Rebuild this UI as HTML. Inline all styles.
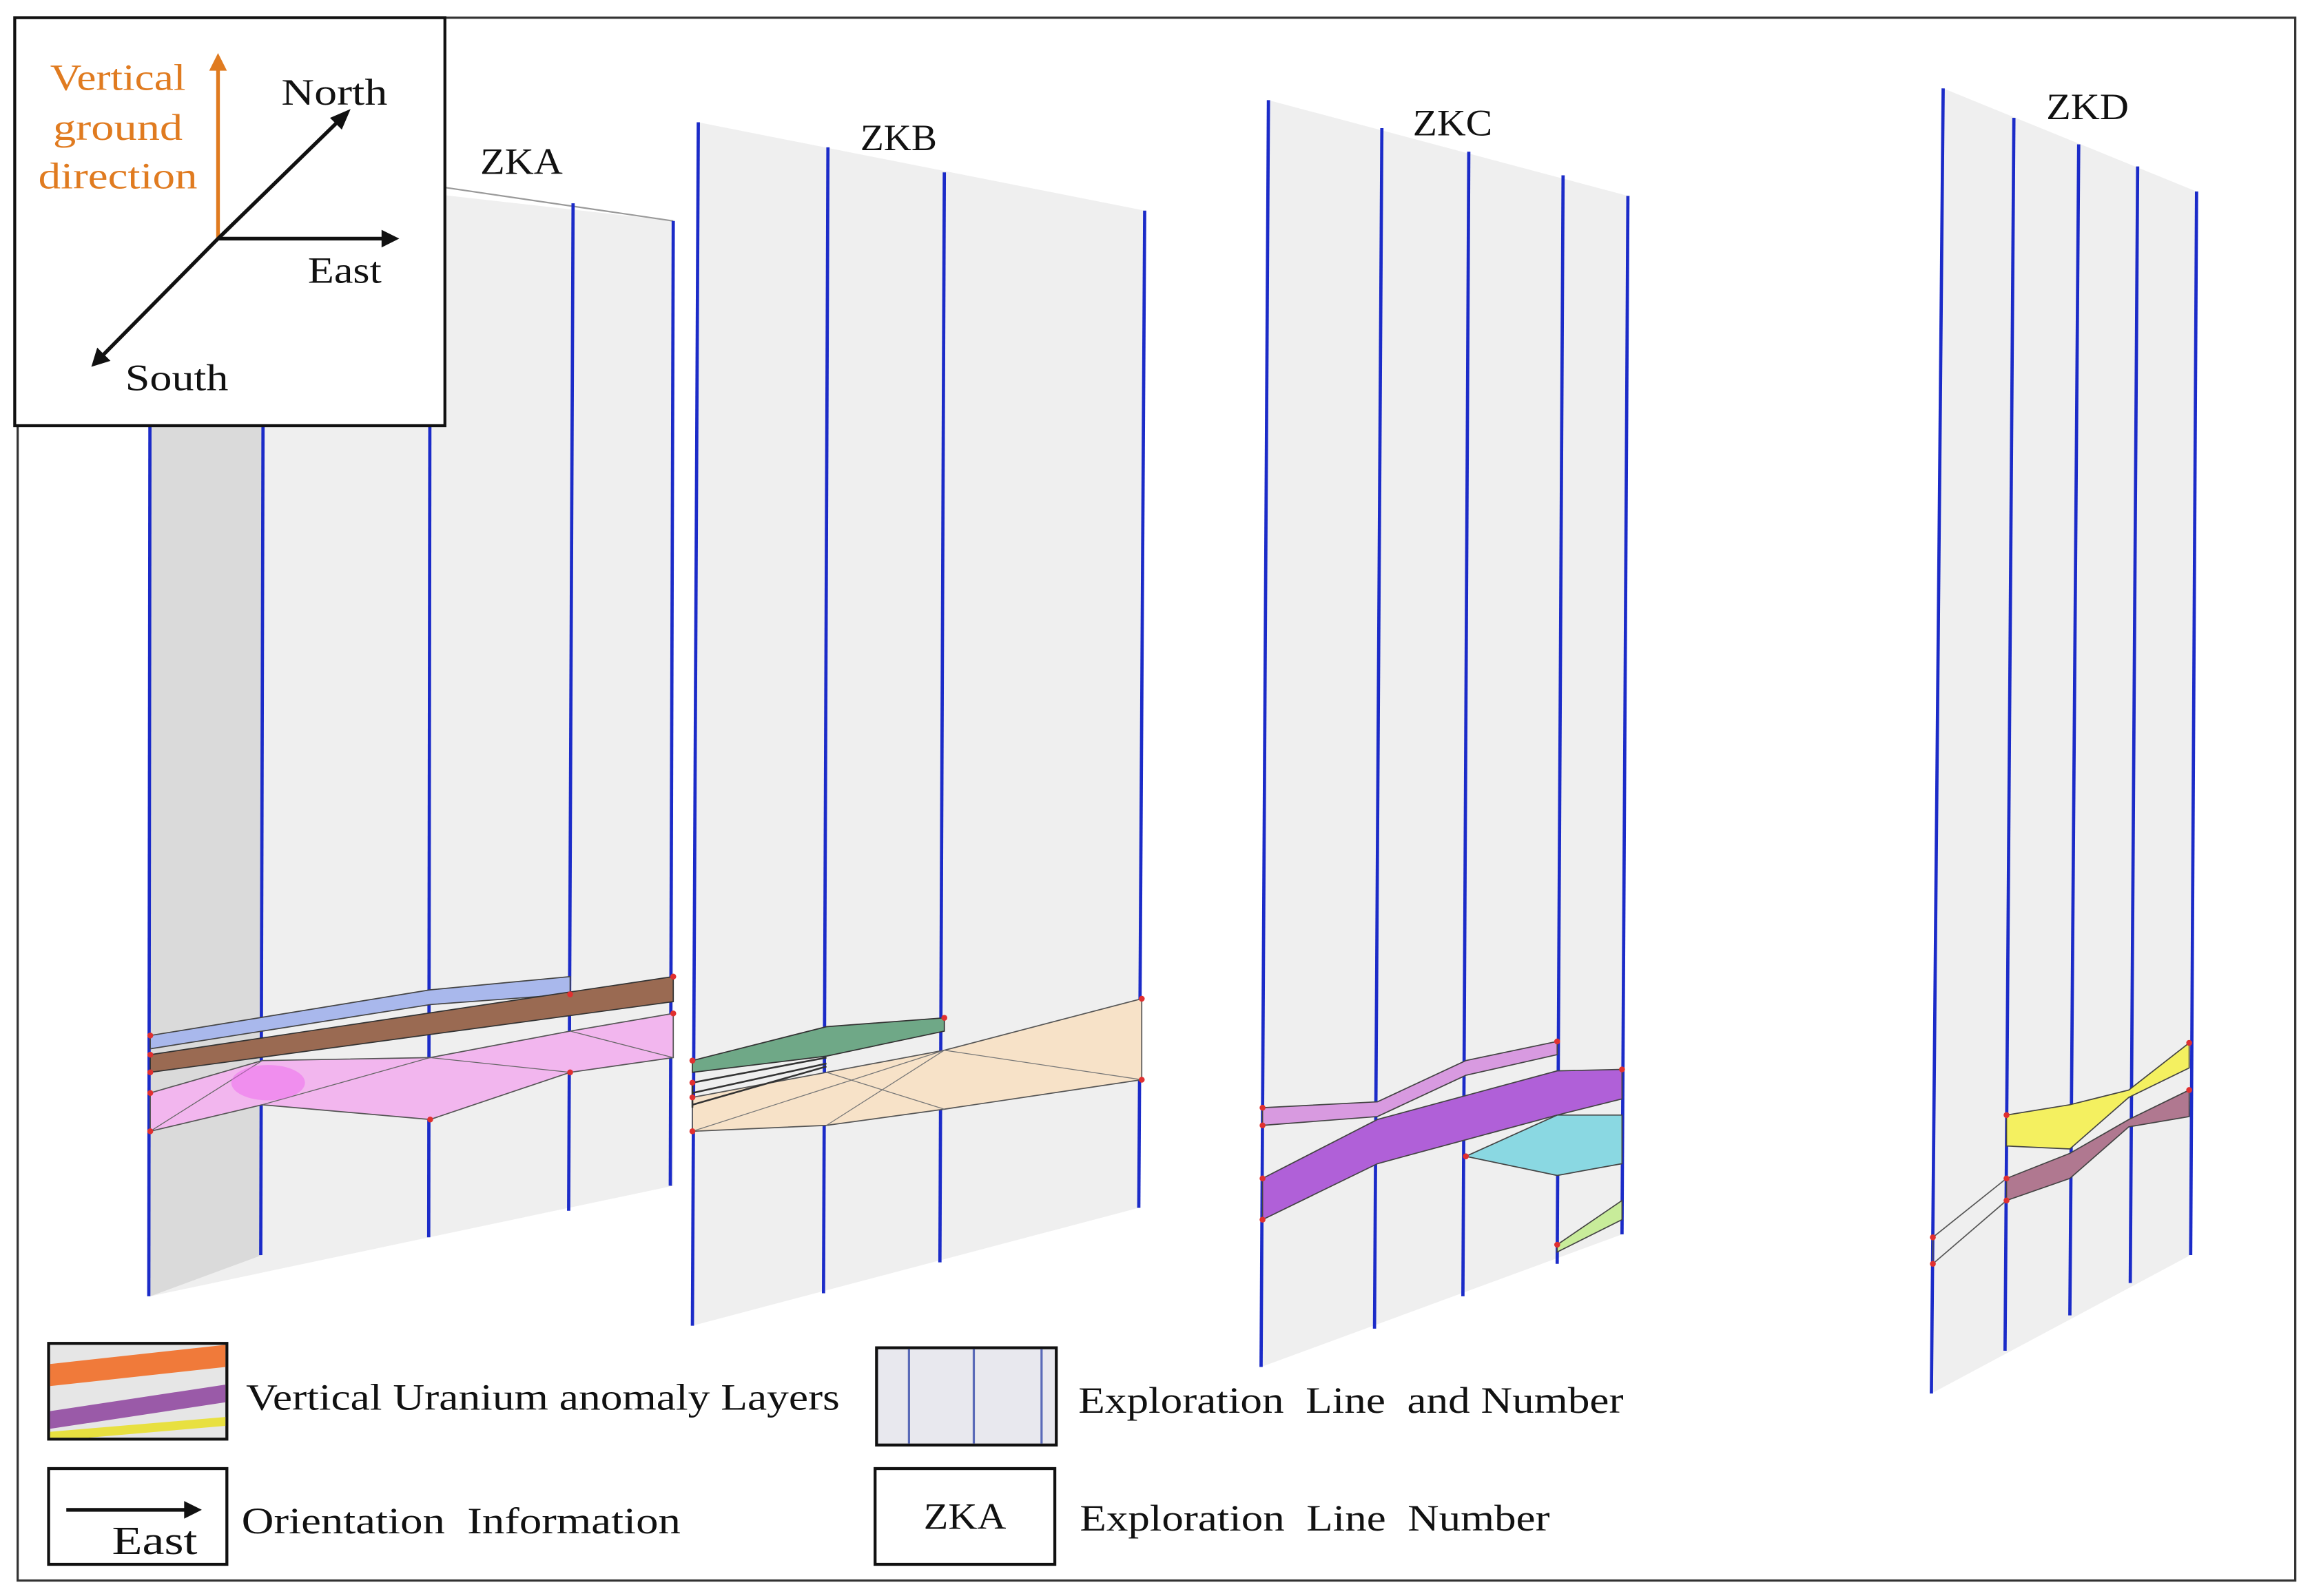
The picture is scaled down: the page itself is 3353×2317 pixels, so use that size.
<!DOCTYPE html>
<html><head><meta charset="utf-8">
<style>
html,body{margin:0;padding:0;background:#fff;}
svg{display:block;}
text{font-family:"Liberation Serif",serif;}
</style></head>
<body>
<svg width="3353" height="2317" viewBox="0 0 1568 1083.5" preserveAspectRatio="none" xmlns="http://www.w3.org/2000/svg">
<rect x="0" y="0" width="1568" height="1083.5" fill="#fff"/>
<rect x="12" y="12" width="1546" height="1061" fill="none" stroke="#333" stroke-width="1.5"/>

<!-- ZKA panel -->
<g>
<polygon points="102,110 457,150 457,805 102,880" fill="#efefef"/>
<polygon points="102,110 178,118 178,852 102,880" fill="#dadada"/>
<line x1="300" y1="127" x2="457" y2="150" stroke="#999" stroke-width="1"/>
<g stroke="#1b2bc8" stroke-width="2.2">
<line x1="102" y1="110" x2="101" y2="880"/>
<line x1="179" y1="118" x2="177" y2="852"/>
<line x1="292" y1="126" x2="291" y2="840"/>
<line x1="389" y1="138" x2="386" y2="822"/>
<line x1="457" y1="150" x2="455" y2="805"/>
</g>
<polygon points="102,703 292,672 387,663 387,675 292,682 102,712" fill="#a9b8ec" stroke="#444" stroke-width="0.8"/>
<polygon points="102,716 457,663 457,680 102,728" fill="#9a6a52" stroke="#333" stroke-width="0.8"/>
<polygon points="102,742 178,720 292,718 387,700 457,688 457,718 387,728 292,760 178,750 102,768" fill="#f2b6ee" stroke="#555" stroke-width="0.8"/>
<path d="M178,720 L102,768 M178,750 L292,718 M292,718 L387,728 M387,700 L457,718" stroke="#666" stroke-width="0.6" fill="none"/>
<ellipse cx="182" cy="735" rx="25" ry="12" fill="#ee66ee" opacity="0.5"/>
<g fill="#e03030">
<circle cx="102" cy="703" r="2"/><circle cx="102" cy="716" r="2"/><circle cx="102" cy="728" r="2"/><circle cx="102" cy="742" r="2"/><circle cx="102" cy="768" r="2"/>
<circle cx="387" cy="675" r="2"/><circle cx="457" cy="663" r="2"/><circle cx="457" cy="688" r="2"/><circle cx="387" cy="728" r="2"/><circle cx="292" cy="760" r="2"/>
</g>
</g>

<!-- ZKB panel -->
<g>
<polygon points="474,83 777,143 773,820 470,900" fill="#efefef"/>
<g stroke="#1b2bc8" stroke-width="2.2">
<line x1="474" y1="83" x2="470" y2="900"/>
<line x1="562" y1="100" x2="559" y2="878"/>
<line x1="641" y1="117" x2="638" y2="857"/>
<line x1="777" y1="143" x2="773" y2="820"/>
</g>
<polygon points="470,745 561,728 641,713 775,678 775,733 641,753 561,764 470,768" fill="#f7e2c8" stroke="#555" stroke-width="0.8"/>
<path d="M470,768 L641,713 L775,733 M561,764 L641,713 M561,728 L641,753" stroke="#777" stroke-width="0.6" fill="none"/>
<polygon points="470,720 561,697 641,691 641,700 561,717 470,728" fill="#6fa887" stroke="#333" stroke-width="0.8"/>
<path d="M470,735 L561,718 M470,742 L561,722 M470,750 L561,724 M470,735 L470,752" stroke="#333" stroke-width="1.2" fill="none"/>
<g fill="#e03030">
<circle cx="470" cy="720" r="2"/><circle cx="470" cy="735" r="2"/><circle cx="470" cy="745" r="2"/><circle cx="470" cy="768" r="2"/><circle cx="775" cy="678" r="2"/><circle cx="775" cy="733" r="2"/><circle cx="641" cy="691" r="2"/>
</g>
</g>

<!-- ZKC panel -->
<g>
<polygon points="861,68 1105,133 1101,838 856,928" fill="#efefef"/>
<g stroke="#1b2bc8" stroke-width="2.2">
<line x1="861" y1="68" x2="856" y2="928"/>
<line x1="938" y1="87" x2="933" y2="902"/>
<line x1="997" y1="103" x2="993" y2="880"/>
<line x1="1061" y1="119" x2="1057" y2="858"/>
<line x1="1105" y1="133" x2="1101" y2="838"/>
</g>
<polygon points="857,752 935,748 995,720 1057,707 1057,716 995,730 935,758 857,764" fill="#d89ae0" stroke="#444" stroke-width="0.8"/>
<polygon points="857,800 935,760 1057,727 1101,726 1101,746 1057,757 935,790 857,828" fill="#b060d8" stroke="#444" stroke-width="0.8"/>
<polygon points="995,785 1057,757 1101,757 1101,790 1057,798" fill="#8ad8e2" stroke="#444" stroke-width="0.8"/>
<polygon points="1057,845 1101,815 1101,828 1057,850" fill="#c8ec9a" stroke="#444" stroke-width="0.8"/>
<g fill="#e03030">
<circle cx="857" cy="752" r="2"/><circle cx="857" cy="764" r="2"/><circle cx="857" cy="800" r="2"/><circle cx="857" cy="828" r="2"/><circle cx="1057" cy="707" r="2"/><circle cx="1101" cy="726" r="2"/><circle cx="995" cy="785" r="2"/><circle cx="1057" cy="845" r="2"/>
</g>
</g>

<!-- ZKD panel -->
<g>
<polygon points="1319,60 1491,130 1487,852 1311,946" fill="#efefef"/>
<g stroke="#1b2bc8" stroke-width="2.2">
<line x1="1319" y1="60" x2="1311" y2="946"/>
<line x1="1367" y1="80" x2="1361" y2="917"/>
<line x1="1411" y1="98" x2="1405" y2="893"/>
<line x1="1451" y1="113" x2="1446" y2="871"/>
<line x1="1491" y1="130" x2="1487" y2="852"/>
</g>
<polygon points="1362,757 1405,750 1445,740 1486,708 1486,725 1445,745 1405,780 1362,778" fill="#f4f060" stroke="#444" stroke-width="0.8"/>
<polygon points="1362,800 1405,783 1445,760 1486,740 1486,758 1445,765 1405,800 1362,815" fill="#b07890" stroke="#444" stroke-width="0.8"/>
<path d="M1312,840 L1362,800 M1312,858 L1362,815 M1312,840 L1312,858" stroke="#555" stroke-width="0.8" fill="none"/>
<g fill="#e03030">
<circle cx="1362" cy="757" r="2"/><circle cx="1362" cy="800" r="2"/><circle cx="1362" cy="815" r="2"/><circle cx="1312" cy="840" r="2"/><circle cx="1312" cy="858" r="2"/><circle cx="1486" cy="708" r="2"/><circle cx="1486" cy="740" r="2"/>
</g>
</g>

<!-- panel labels -->
<g font-size="25" fill="#111">
<text x="354" y="118" text-anchor="middle" textLength="56" lengthAdjust="spacingAndGlyphs">ZKA</text>
<text x="610" y="102" text-anchor="middle" textLength="52" lengthAdjust="spacingAndGlyphs">ZKB</text>
<text x="986" y="92" text-anchor="middle" textLength="54" lengthAdjust="spacingAndGlyphs">ZKC</text>
<text x="1417" y="81" text-anchor="middle" textLength="56" lengthAdjust="spacingAndGlyphs">ZKD</text>
</g>

<!-- orientation inset -->
<g>
<rect x="10" y="12" width="292" height="277" fill="#fff" stroke="#111" stroke-width="2"/>
<line x1="148" y1="162" x2="148" y2="44" stroke="#e07b20" stroke-width="2.5"/>
<polygon points="148,36 142,48 154,48" fill="#e07b20"/>
<line x1="148" y1="162" x2="231" y2="81" stroke="#111" stroke-width="2.5"/>
<polygon points="238,74 224,80 232,88" fill="#111"/>
<line x1="148" y1="162" x2="262" y2="162" stroke="#111" stroke-width="2.5"/>
<polygon points="271,162 259,156 259,168" fill="#111"/>
<line x1="148" y1="162" x2="68" y2="243" stroke="#111" stroke-width="2.5"/>
<polygon points="62,249 66,236 75,245" fill="#111"/>
<g font-size="25" fill="#e07b20" text-anchor="middle">
<text x="80" y="61" textLength="92" lengthAdjust="spacingAndGlyphs">Vertical</text>
<text x="80" y="95" textLength="88" lengthAdjust="spacingAndGlyphs">ground</text>
<text x="80" y="128" textLength="108" lengthAdjust="spacingAndGlyphs">direction</text>
</g>
<g font-size="25" fill="#111" text-anchor="middle">
<text x="227" y="71" textLength="72" lengthAdjust="spacingAndGlyphs">North</text>
<text x="234" y="192" textLength="50" lengthAdjust="spacingAndGlyphs">East</text>
<text x="120" y="265" textLength="70" lengthAdjust="spacingAndGlyphs">South</text>
</g>
</g>

<!-- legend -->
<g>
<g>
<rect x="33" y="912" width="121" height="65" fill="#e6e6e6" stroke="#111" stroke-width="2"/>
<polygon points="34,926 153,913 153,928 34,941" fill="#f07a3a"/>
<polygon points="34,958 153,940 153,952 34,970" fill="#9a5aa8"/>
<polygon points="34,972 153,962 153,968 60,976 34,976" fill="#e8e040"/>
<text x="167" y="957" font-size="25" fill="#111" textLength="403" lengthAdjust="spacingAndGlyphs">Vertical Uranium anomaly Layers</text>
</g>
<g>
<rect x="595" y="915" width="122" height="66" fill="#e8e8ee" stroke="#111" stroke-width="2"/>
<line x1="617" y1="916" x2="617" y2="980" stroke="#5a6ab8" stroke-width="1.5"/>
<line x1="661" y1="916" x2="661" y2="980" stroke="#5a6ab8" stroke-width="1.5"/>
<line x1="707" y1="916" x2="707" y2="980" stroke="#5a6ab8" stroke-width="1.5"/>
<text x="732" y="959" font-size="25" fill="#111" xml:space="preserve" textLength="370" lengthAdjust="spacingAndGlyphs">Exploration  Line  and Number</text>
</g>
<g>
<rect x="33" y="997" width="121" height="65" fill="#fff" stroke="#111" stroke-width="2"/>
<line x1="45" y1="1025" x2="128" y2="1025" stroke="#111" stroke-width="2.5"/>
<polygon points="137,1025 125,1019 125,1031" fill="#111"/>
<text x="105" y="1055" font-size="27" fill="#111" text-anchor="middle" textLength="58" lengthAdjust="spacingAndGlyphs">East</text>
<text x="164" y="1041" font-size="25" fill="#111" xml:space="preserve" textLength="298" lengthAdjust="spacingAndGlyphs">Orientation  Information</text>
</g>
<g>
<rect x="594" y="997" width="122" height="65" fill="#fff" stroke="#111" stroke-width="2"/>
<text x="655" y="1038" font-size="25" fill="#111" text-anchor="middle" textLength="56" lengthAdjust="spacingAndGlyphs">ZKA</text>
<text x="733" y="1039" font-size="25" fill="#111" xml:space="preserve" textLength="319" lengthAdjust="spacingAndGlyphs">Exploration  Line  Number</text>
</g>
</g>
</svg>
</body></html>
